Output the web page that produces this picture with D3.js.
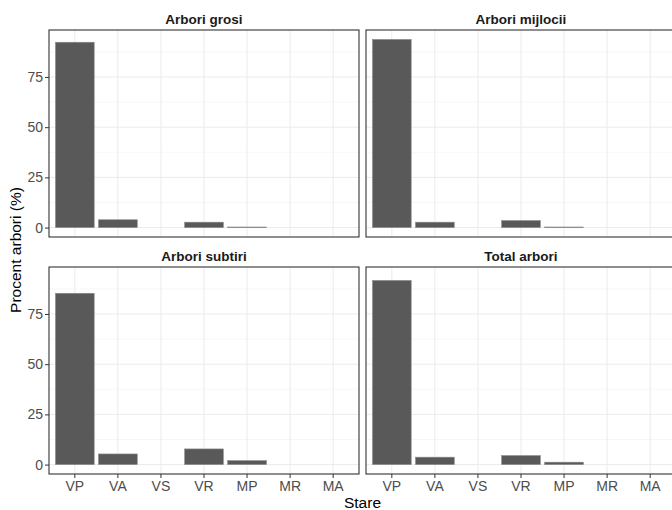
<!DOCTYPE html>
<html lang="en">
  <head>
    <meta charset="utf-8" />
    <script src="https://d3js.org/d3.v7.min.js"></script>
    <style>
      body { margin: 0; background: #fff; }
      svg { font-family: "Liberation Sans", Arial, sans-serif; }
    </style>
  </head>
  <body>
    <div id="chart"></div>
    <script>
      const categories = ["VP", "VA", "VS", "VR", "MP", "MR", "MA"];
      const panelTitles = ["Arbori grosi", "Arbori mijlocii", "Arbori subtiri", "Total arbori"];
      const grosi = [92.3, 3.9, 0, 2.7, 0.3, 0, 0];
      const mijlocii = [93.7, 2.7, 0, 3.5, 0.3, 0, 0];
      const subtiri = [85.3, 5.3, 0, 7.8, 2.0, 0, 0];
      const total = [91.7, 3.7, 0, 4.5, 1.2, 0, 0];
      const yTicks = [0, 25, 50, 75];
      const yMinor = [12.5, 37.5, 62.5, 87.5];

      const series = [grosi, mijlocii, subtiri, total];

      const width = 672;
      const height = 510;
      const panelW = 310;
      const panelH = 207;
      const colX = [49, 366];
      const rowY = [30, 267];

      const svg = d3
        .select("#chart")
        .append("svg")
        .attr("width", width)
        .attr("height", height);

      // ggplot discrete scale: 0.6 units of expansion each side, bars 0.9 wide
      const x = d3
        .scaleBand()
        .domain(categories)
        .range([0, panelW])
        .paddingInner(0.1)
        .paddingOuter(0.15);

      const maxVal = d3.max(series.flat());
      const y = d3
        .scaleLinear()
        .domain([-0.05 * maxVal, 1.05 * maxVal])
        .range([panelH, 0]);

      panelTitles.forEach((title, i) => {
        const col = i % 2;
        const row = Math.floor(i / 2);
        const g = svg
          .append("g")
          .attr("transform", `translate(${colX[col]},${rowY[row]})`);

        // grid
        g.selectAll(".minor")
          .data(yMinor)
          .enter()
          .append("line")
          .attr("x1", 0)
          .attr("x2", panelW)
          .attr("y1", (d) => y(d))
          .attr("y2", (d) => y(d))
          .attr("stroke", "#f2f2f2")
          .attr("stroke-width", 0.6);

        g.selectAll(".major")
          .data(yTicks)
          .enter()
          .append("line")
          .attr("x1", 0)
          .attr("x2", panelW)
          .attr("y1", (d) => y(d))
          .attr("y2", (d) => y(d))
          .attr("stroke", "#ebebeb")
          .attr("stroke-width", 1);

        g.selectAll(".vgrid")
          .data(categories)
          .enter()
          .append("line")
          .attr("x1", (d) => x(d) + x.bandwidth() / 2)
          .attr("x2", (d) => x(d) + x.bandwidth() / 2)
          .attr("y1", 0)
          .attr("y2", panelH)
          .attr("stroke", "#ebebeb")
          .attr("stroke-width", 1);

        // bars
        const vals = series[i]
          .map((v, k) => ({ cat: categories[k], v: v }))
          .filter((d) => d.v > 0);

        g.selectAll("rect.bar")
          .data(vals)
          .enter()
          .append("rect")
          .attr("class", "bar")
          .attr("x", (d) => x(d.cat))
          .attr("width", x.bandwidth())
          .attr("y", (d) => y(d.v))
          .attr("height", (d) => y(0) - y(d.v))
          .attr("fill", "#595959")
          .attr("stroke", "#8c8c8c")
          .attr("stroke-width", 0.6);

        // border
        g.append("rect")
          .attr("x", 0)
          .attr("y", 0)
          .attr("width", panelW)
          .attr("height", panelH)
          .attr("fill", "none")
          .attr("stroke", "#333333")
          .attr("stroke-width", 1.1);

        // strip title
        g.append("text")
          .attr("x", panelW / 2)
          .attr("y", -6)
          .attr("text-anchor", "middle")
          .attr("font-size", "13.5px")
          .attr("font-weight", "bold")
          .attr("fill", "#1a1a1a")
          .text(title);

        if (col === 0) {
          const ay = g.append("g").call(d3.axisLeft(y).tickValues(yTicks).tickSize(4).tickPadding(2));
          ay.select(".domain").remove();
          ay.selectAll("line").attr("stroke", "#333333");
          ay.selectAll("text")
            .attr("font-size", "14px")
            .attr("font-family", "Liberation Sans, Arial, sans-serif")
            .attr("fill", "#4d4d4d");
        }
        if (row === 1) {
          const ax = g
            .append("g")
            .attr("transform", `translate(0,${panelH})`)
            .call(d3.axisBottom(x).tickSize(4).tickPadding(3));
          ax.select(".domain").remove();
          ax.selectAll("line").attr("stroke", "#333333");
          ax.selectAll("text")
            .attr("font-size", "14px")
            .attr("font-family", "Liberation Sans, Arial, sans-serif")
            .attr("fill", "#4d4d4d");
        }
      });

      svg
        .append("text")
        .attr("x", (colX[0] + colX[1] + panelW) / 2)
        .attr("y", 508)
        .attr("text-anchor", "middle")
        .attr("font-size", "15.5px")
        .attr("fill", "#000")
        .text("Stare");

      svg
        .append("text")
        .attr("transform", "rotate(-90)")
        .attr("x", -250)
        .attr("y", 21)
        .attr("text-anchor", "middle")
        .attr("font-size", "15.5px")
        .attr("fill", "#000")
        .text("Procent arbori (%)");
    </script>
  </body>
</html>
